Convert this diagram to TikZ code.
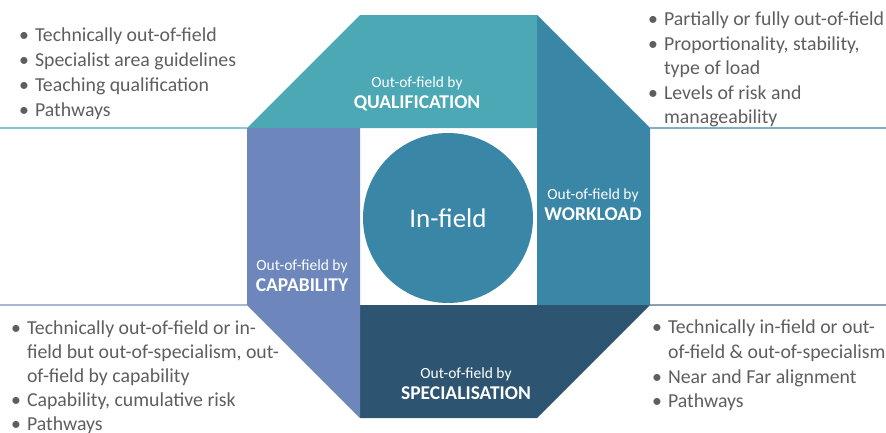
\documentclass[tikz,border=0pt]{standalone}
\usepackage{fontspec}
\setmainfont{Carlito}
\definecolor{qualcol}{HTML}{4BA8B4}
\definecolor{workcol}{HTML}{3A86A6}
\definecolor{speccol}{HTML}{2D5572}
\definecolor{capcol}{HTML}{6D87BD}
\definecolor{notegray}{HTML}{5E5E5E}
\begin{document}
\begin{tikzpicture}[x=1pt, y=-1pt,
    boxlabel/.style={text=white, align=center, inner sep=0pt, font=\fontsize{15.5}{21}\selectfont},
    notes/.style={text=notegray, anchor=north west, inner sep=0pt, font=\fontsize{19.8}{24.6}\selectfont},
    divider/.style={line width=1.6pt}]
    \useasboundingbox (0,0) rectangle (886,432);

    % Qualification (top)
    \fill[qualcol] (360,15) -- (537,15) -- (537,128) -- (247,128) -- cycle;
    \node[boxlabel] (qual) at (417,94) {Out-of-field by\\{\fontsize{19.5}{21}\selectfont\bfseries QUALIFICATION}};

    % Workload (right)
    \fill[workcol] (537,15) -- (650,128) -- (650,305) -- (537,305) -- cycle;
    \node[boxlabel] (work) at (593,205) {Out-of-field by\\{\fontsize{19.5}{21}\selectfont\bfseries WORKLOAD}};

    % Specialisation (bottom)
    \fill[speccol] (360,305) -- (650,305) -- (537,418) -- (360,418) -- cycle;
    \node[boxlabel] (spec) at (466,384) {Out-of-field by\\{\fontsize{19.5}{21}\selectfont\bfseries SPECIALISATION}};

    % Capability (left)
    \fill[capcol] (247,128) -- (360,128) -- (360,418) -- (247,305) -- cycle;
    \node[boxlabel] (cap) at (302,276) {Out-of-field by\\{\fontsize{19.5}{21}\selectfont\bfseries CAPABILITY}};

    % In-field circle
    \node[circle, fill=workcol, minimum size=170pt, inner sep=0pt, text=white,
          font=\fontsize{27}{30}\selectfont] (infield) at (448,218) {In-field};

    % Divider lines
    \draw[divider, qualcol!65] (0,128) -- (247,128);
    \draw[divider, workcol!65] (650,128) -- (886,128);
    \draw[divider, capcol!60] (0,305) -- (247,305);
    \draw[divider, speccol!55] (650,305) -- (886,305);

    % Notes
    \node[notes, font=\fontsize{19.8}{25}\selectfont] (qualnotes) at (19,24) {\begin{tabular}{@{}l@{\hspace{6pt}}l@{}}
        \textbullet & Technically out-of-field\\
        \textbullet & Specialist area guidelines\\
        \textbullet & Teaching qualification\\
        \textbullet & Pathways
    \end{tabular}};
    \node[notes] (worknotes) at (648,8) {\begin{tabular}{@{}l@{\hspace{6pt}}l@{}}
        \textbullet & Partially or fully out-of-field\\
        \textbullet & Proportionality, stability,\\
                    & type of load\\
        \textbullet & Levels of risk and\\
                    & manageability
    \end{tabular}};
    \node[notes, font=\fontsize{19.8}{24}\selectfont] (capnotes) at (11,317) {\begin{tabular}{@{}l@{\hspace{6pt}}l@{}}
        \textbullet & Technically out-of-field or in-\\
                    & field but out-of-specialism, out-\\
                    & of-field by capability\\
        \textbullet & Capability, cumulative risk\\
        \textbullet & Pathways
    \end{tabular}};
    \node[notes, font=\fontsize{19.8}{24.8}\selectfont] (specnotes) at (652,316) {\begin{tabular}{@{}l@{\hspace{6pt}}l@{}}
        \textbullet & Technically in-field or out-\\
                    & of-field \& out-of-specialism\\
        \textbullet & Near and Far alignment\\
        \textbullet & Pathways
    \end{tabular}};
\end{tikzpicture}
\end{document}
